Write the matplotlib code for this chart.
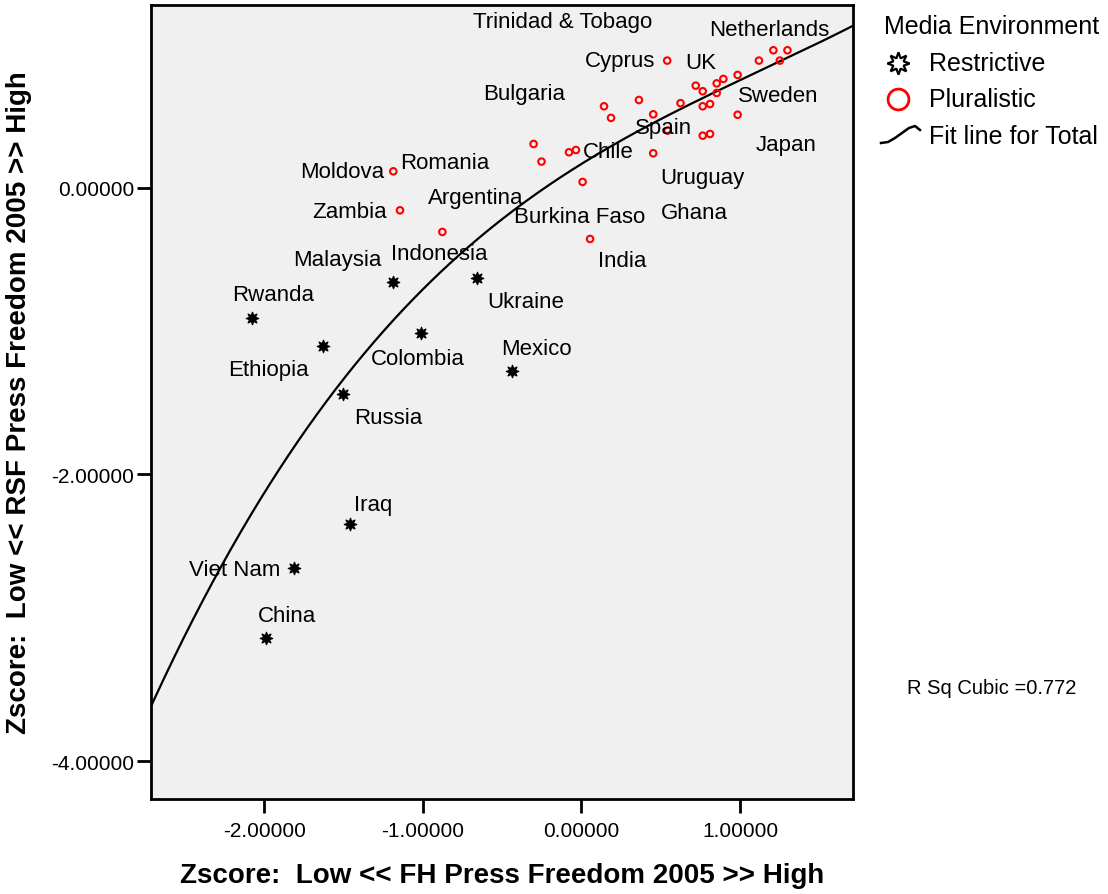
import numpy as np
import matplotlib
matplotlib.use('Agg')
import matplotlib.pyplot as plt
from matplotlib.lines import Line2D

plt.rcParams['font.family'] = ['Liberation Sans', 'DejaVu Sans']

# Restrictive media environments (x = FH z-score, y = RSF z-score)
restr_x = [-2.074, -1.632, -1.501, -1.011, -1.186, -0.657, -0.435, -1.457, -1.810, -1.988]
restr_y = [-0.908, -1.105, -1.438, -1.009, -0.654, -0.630, -1.277, -2.349, -2.656, -3.141]

# Pluralistic media environments
plur_x = [0.540, 1.209, 1.298, 1.118, 1.250, 0.984, 0.894, 0.852, 0.720, 0.764,
          0.852, 0.362, 0.624, 0.810, 0.764, 0.142, 0.186, 0.452, 0.984, 0.543,
          0.764, 0.810, -0.302, -0.252, -0.079, -0.035, 0.452, 0.007, -1.186, -1.144,
          -0.877, 0.054]
plur_y = [0.889, 0.961, 0.961, 0.889, 0.889, 0.789, 0.761, 0.730, 0.714, 0.675,
          0.663, 0.614, 0.592, 0.586, 0.570, 0.570, 0.489, 0.514, 0.511, 0.400,
          0.365, 0.377, 0.307, 0.184, 0.249, 0.265, 0.242, 0.042, 0.116, -0.156,
          -0.307, -0.356]

# country labels as SPSS placed them
lab_names = ['Trinidad & Tobago', 'Netherlands', 'Cyprus', 'UK', 'Bulgaria', 'Sweden',
             'Spain', 'Japan', 'Chile', 'Moldova', 'Romania', 'Uruguay', 'Zambia',
             'Argentina', 'Burkina Faso', 'Ghana', 'Malaysia', 'Indonesia', 'India',
             'Ukraine', 'Rwanda', 'Ethiopia', 'Colombia', 'Mexico', 'Russia', 'Iraq',
             'Viet Nam', 'China']
lab_x = [-0.116, 1.185, 0.243, 0.753, -0.359, 1.238, 0.518, 1.290, 0.167, -1.509,
         -0.860, 0.759, -1.462, -0.665, -0.009, 0.709, -1.540, -0.898, 0.255,
         -0.349, -1.942, -1.973, -1.033, -0.282, -1.219, -1.311, -2.186, -1.855]
lab_y = [1.161, 1.103, 0.888, 0.874, 0.660, 0.644, 0.424, 0.302, 0.253, 0.113,
         0.180, 0.070, -0.161, -0.065, -0.198, -0.174, -0.496, -0.456, -0.509,
         -0.794, -0.747, -1.264, -1.187, -1.119, -1.600, -2.211, -2.660, -2.981]

r_sq = 0.772

fig = plt.figure(figsize=(11.08, 8.95), dpi=100)
ax = fig.add_axes([151/1108, 95/895, 702/1108, 794/895])
ax.set_facecolor('#f0f0f0')

# cubic fit on all cases
all_x = np.array(restr_x + plur_x)
all_y = np.array(restr_y + plur_y)
coef = np.polyfit(all_x, all_y, 3)
xx = np.linspace(-2.75, 1.75, 300)
ax.plot(xx, np.polyval(coef, xx), color='black', lw=1.6, zorder=2)

ax.scatter(plur_x, plur_y, s=22, facecolors='none', edgecolors='red', linewidths=1.5, zorder=3)
ax.scatter(restr_x, restr_y, s=80, marker=(8, 1, 0), color='black', linewidths=0.9, zorder=3)

for n, x, y in zip(lab_names, lab_x, lab_y):
    ax.text(x, y, n, fontsize=16, ha='center', va='center', zorder=4)

ax.set_xlim(-2.713, 1.711)
ax.set_ylim(-4.265, 1.277)
ax.set_xticks([-2, -1, 0, 1])
ax.set_yticks([0, -2, -4])
ax.set_xticklabels(['%.5f' % v for v in [-2, -1, 0, 1]])
ax.set_yticklabels(['%.5f' % v for v in [0, -2, -4]])
ax.tick_params(labelsize=15, length=10, width=2, direction='out')
ax.tick_params(axis='x', pad=6)
ax.tick_params(axis='y', pad=2)
for s in ax.spines.values():
    s.set_linewidth(2)

ax.set_xlabel('Zscore:  Low << FH Press Freedom 2005 >> High', fontsize=20,
              fontweight='bold', labelpad=16)
ax.set_ylabel('Zscore:  Low << RSF Press Freedom 2005 >> High', fontsize=20,
              fontweight='bold', labelpad=14)

# legend drawn by hand to the right
fig.text(884/1108, 1 - 27/895, 'Media Environment', fontsize=18, va='center', ha='left')
fig.text(929/1108, 1 - 64/895, 'Restrictive', fontsize=18, va='center', ha='left')
fig.text(929/1108, 1 - 100/895, 'Pluralistic', fontsize=18, va='center', ha='left')
fig.text(929/1108, 1 - 137/895, 'Fit line for Total', fontsize=18, va='center', ha='left')
fig.add_artist(Line2D([898/1108], [1 - 64/895], marker=(8, 1, 0), ms=16, mfc='white',
                      mec='black', mew=1.6, transform=fig.transFigure))
fig.add_artist(Line2D([898/1108], [1 - 100/895], marker='o', ms=15, mfc='none',
                      mec='red', mew=2, transform=fig.transFigure))
ix = np.array([881, 888, 895, 902, 909, 915, 920]) / 1108
iy = 1 - np.array([144, 143, 139, 134, 129, 127, 131]) / 895
fig.add_artist(Line2D(ix, iy, color='black', lw=1.8, transform=fig.transFigure))

fig.text(992/1108, 1 - 689/895, 'R Sq Cubic =%.3f' % r_sq, fontsize=14.5, va='center', ha='center')

fig.savefig('out.png', dpi=100)
